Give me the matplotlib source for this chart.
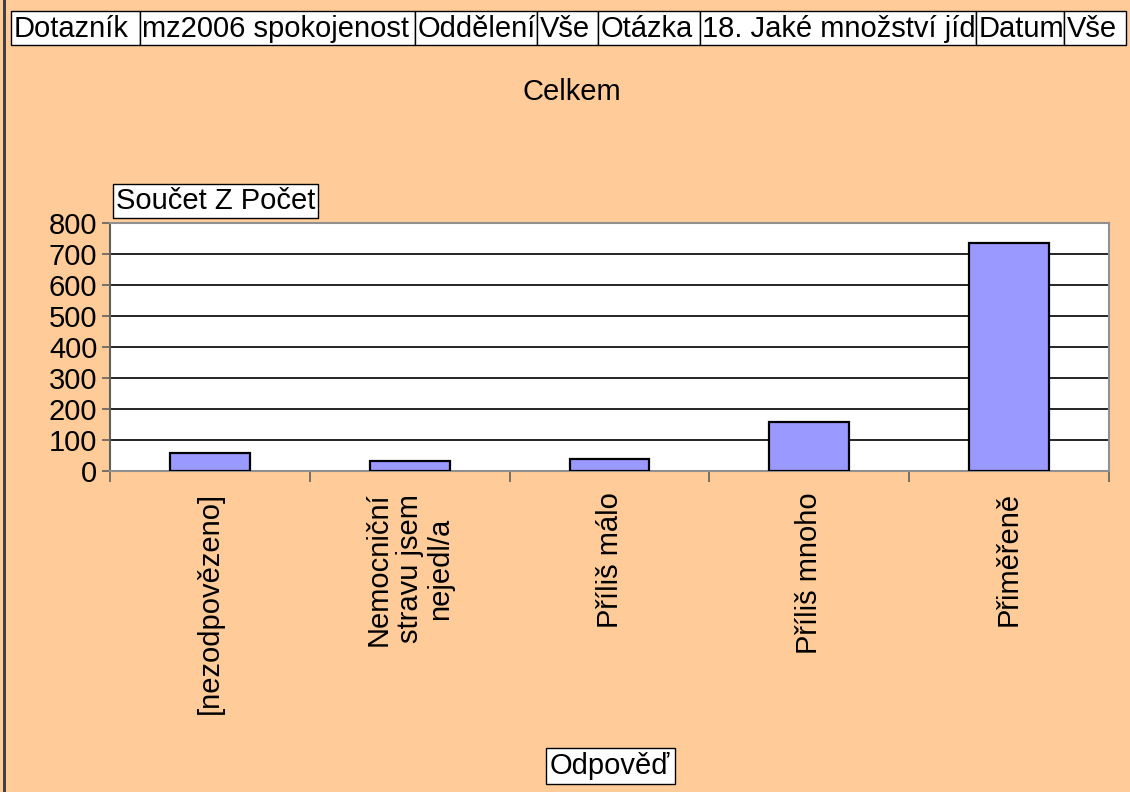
import matplotlib
matplotlib.use("Agg")
import matplotlib.pyplot as plt
from matplotlib.patches import Rectangle
from matplotlib.transforms import Bbox

categories = ["[nezodpovězeno]", "Nemocniční\nstravu jsem\nnejedl/a", "Příliš málo", "Příliš mnoho", "Přiměřeně"]
values = [57, 33, 38, 157, 737]
yticks = [0, 100, 200, 300, 400, 500, 600, 700, 800]
header_texts = ["Dotazník", "mz2006 spokojenost", "Oddělení", "Vše", "Otázka",
                "18. Jaké množství jídla", "Datum", "Vše"]
header_edges = [11, 140, 415, 537, 598, 700, 976, 1064, 1126]

W, H = 1130, 792
BG = "#FFCC99"
FS = 21
plt.rcParams['font.family'] = ['Liberation Sans', 'DejaVu Sans']

fig = plt.figure(figsize=(W / 100, H / 100), dpi=100, facecolor=BG)

def fx(x):
    return x / W

def fy(y):
    return 1 - y / H

# left border
fig.patches.append(Rectangle((3 / W, 0), 2.5 / W, 1, transform=fig.transFigure,
                             facecolor="#404040", edgecolor="none", zorder=5))

# header cells
for i, t in enumerate(header_texts):
    x0, x1 = header_edges[i], header_edges[i + 1]
    y0, y1 = 11, 45
    r = Rectangle((fx(x0), fy(y1)), fx(x1 - x0), (y1 - y0) / H, transform=fig.transFigure,
                  facecolor="white", edgecolor="black", linewidth=1.0, zorder=3)
    fig.patches.append(r)
    txt = fig.text(fx(x0 + 2.5), fy((y0 + y1) / 2 + 1), t, fontsize=21, ha="left", va="center", zorder=4)
    txt.set_clip_box(Bbox([[x0 + 1, H - y1], [x1 - 1, H - y0]]))
    txt.set_clip_on(True)

# title
fig.text(fx(572), fy(92), "Celkem", fontsize=FS, ha="center", va="center")

ax = fig.add_axes([fx(110), fy(471), fx(1109 - 110), (471 - 223) / H])
ax.set_facecolor("white")
xs = list(range(len(categories)))
ax.bar(xs, values, width=0.4, color="#9999FF", edgecolor="black", linewidth=1.6, zorder=3)
ax.set_xlim(-0.5, len(categories) - 0.5)
ax.set_ylim(0, 800)
ax.set_yticks(yticks)
ax.set_yticklabels([str(v) for v in yticks], fontsize=FS)
ax.yaxis.grid(True, color="black", linewidth=1.2, zorder=1)
ax.set_axisbelow(True)
ax.tick_params(axis="y", direction="out", length=6, width=1.2, color="#606060", pad=3)
ax.set_xticks([i - 0.5 for i in range(len(categories) + 1)])
ax.set_xticklabels([])
ax.tick_params(axis="x", direction="out", length=8, width=1.2, color="#606060")
for s in ["top", "right"]:
    ax.spines[s].set_color("#909090")
    ax.spines[s].set_linewidth(1.5)
ax.spines["left"].set_color("#606060")
ax.spines["left"].set_linewidth(1.5)
ax.spines["bottom"].set_color("#909090")
ax.spines["bottom"].set_linewidth(1.5)

for i, c in enumerate(categories):
    ax.text(i, -0.085, c, transform=ax.get_xaxis_transform(), rotation=90,
            ha="center", va="top", multialignment="center", fontsize=FS, linespacing=1.12)

# axis title boxes
fig.text(fx(116), fy(201), "Součet Z Počet", fontsize=FS, ha="left", va="center",
         bbox=dict(boxstyle="square,pad=0.1", facecolor="white", edgecolor="black", linewidth=1.0))
fig.text(fx(610), fy(766), "Odpověď", fontsize=FS, ha="center", va="center",
         bbox=dict(boxstyle="square,pad=0.15", facecolor="white", edgecolor="black", linewidth=1.0))

fig.savefig("out.png", dpi=100, facecolor=BG)
